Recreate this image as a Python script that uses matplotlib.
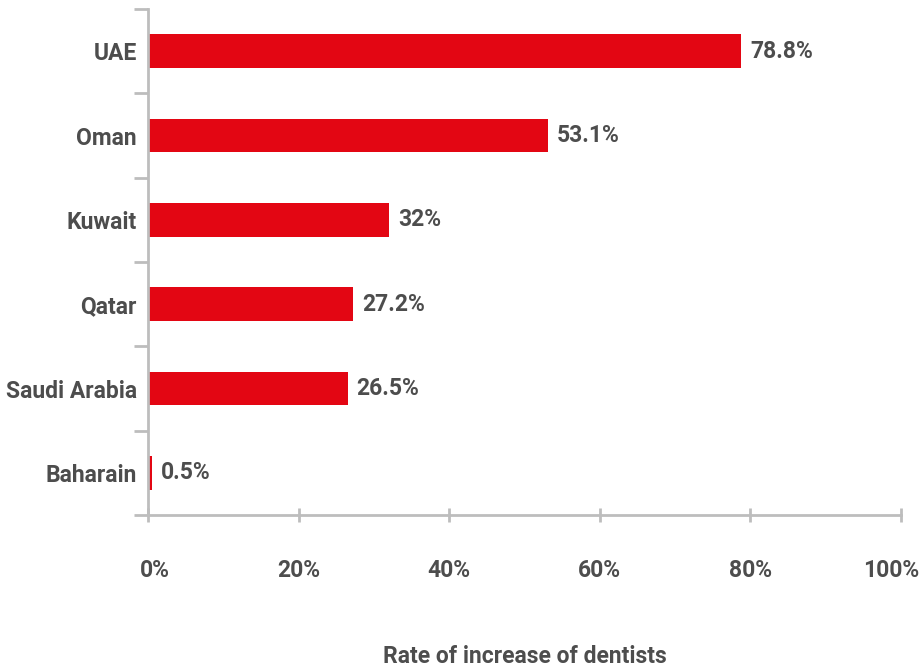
import matplotlib.pyplot as plt
import matplotlib.transforms as mtransforms
from matplotlib.ticker import FixedLocator, PercentFormatter

countries = ["UAE", "Oman", "Kuwait", "Qatar", "Saudi Arabia", "Baharain"]
rates = [78.8, 53.1, 32, 27.2, 26.5, 0.5]
rate_labels = ["78.8%", "53.1%", "32%", "27.2%", "26.5%", "0.5%"]

red = "#e30613"
text_grey = "#4d4d4d"
axis_grey = "#bdbdbd"

plt.rcParams['font.family'] = ['Roboto', 'DejaVu Sans']
plt.rcParams['font.weight'] = 'bold'
fs = 16.5

fig = plt.figure(figsize=(9.21, 6.70), dpi=100)
ax = fig.add_axes([148 / 921, 1 - 515 / 670, 753 / 921, 506 / 670])

pos = list(range(len(countries)))
ax.barh(pos, rates, height=0.4, color=red)
for p, r, lab in zip(pos, rates, rate_labels):
    ax.text(r + 1.2, p, lab, va='center', ha='left', fontsize=fs,
            fontweight='bold', color=text_grey)

ax.set_xlim(0, 100)
ax.set_ylim(len(countries) - 0.5, -0.5)

# category names sit between the boundary ticks
ax.yaxis.set_major_locator(FixedLocator([p - 0.5 for p in pos] + [len(countries) - 0.5]))
ax.yaxis.set_major_formatter(plt.NullFormatter())
ax.yaxis.set_minor_locator(FixedLocator(pos))
ax.set_yticklabels(countries, minor=True)
ax.tick_params(axis='y', which='major', direction='out', length=10, width=2, color=axis_grey)
ax.tick_params(axis='y', which='minor', length=0, pad=8, labelsize=fs, labelcolor=text_grey)

ax.set_xticks([0, 20, 40, 60, 80, 100])
ax.xaxis.set_major_formatter(PercentFormatter(decimals=0))
ax.tick_params(axis='x', direction='inout', length=10, width=2, color=axis_grey,
               pad=27, labelsize=fs, labelcolor=text_grey)

# nudge the end labels inward so they stay on the canvas
xlabels = ax.get_xticklabels()
xlabels[0].set_transform(xlabels[0].get_transform() +
                         mtransforms.ScaledTranslation(7 / 100, 0, fig.dpi_scale_trans))
xlabels[-1].set_transform(xlabels[-1].get_transform() +
                          mtransforms.ScaledTranslation(-10 / 100, 0, fig.dpi_scale_trans))

for side in ['top', 'right']:
    ax.spines[side].set_visible(False)
for side in ['left', 'bottom']:
    ax.spines[side].set_color(axis_grey)
    ax.spines[side].set_linewidth(2)

ax.set_xlabel("Rate of increase of dentists", fontsize=fs, fontweight='bold',
              color=text_grey, labelpad=45)

fig.savefig("out.png", dpi=100)
